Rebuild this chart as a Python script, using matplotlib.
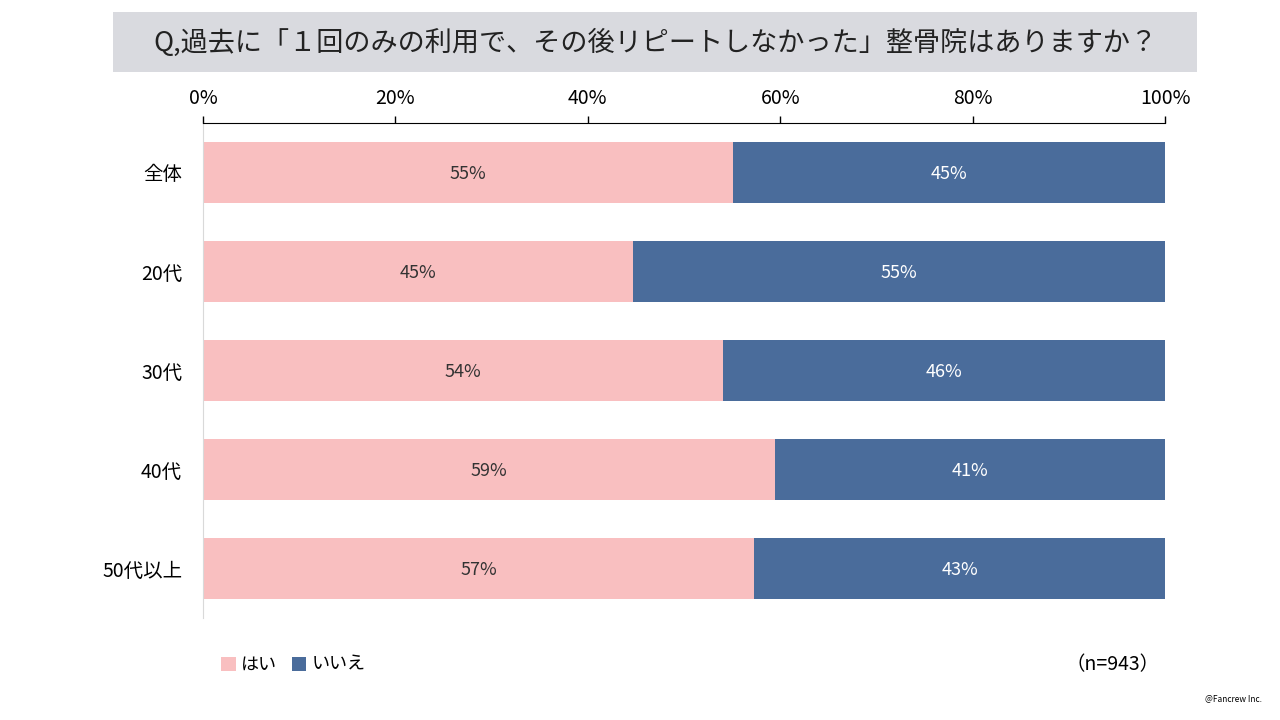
import matplotlib
matplotlib.use('Agg')
import matplotlib.pyplot as plt
from matplotlib.patches import Rectangle

plt.rcParams['font.family'] = ['Noto Sans CJK JP', 'DejaVu Sans']

categories = ['全体', '20代', '30代', '40代', '50代以上']
hai = [55.1, 44.7, 54.1, 59.5, 57.3]
iie = [44.9, 55.3, 45.9, 40.5, 42.7]
hai_labels = ['55%', '45%', '54%', '59%', '57%']
iie_labels = ['45%', '55%', '46%', '41%', '43%']

title = 'Q,過去に「１回のみの利用で、その後リピートしなかった」整骨院はありますか？'

pink = '#F9BFC0'
blue = '#4A6C9B'

fig = plt.figure(figsize=(12.8, 7.2), dpi=100)

# title band
fig.patches.append(Rectangle((113/1280, 1-72/720), (1197-113)/1280, 60/720,
                             transform=fig.transFigure, facecolor='#D9DADF',
                             edgecolor='none', zorder=0))
fig.text(655/1280, 1-43/720, title, ha='center', va='center', fontsize=19.5, color='#222222')

ax = fig.add_axes([203/1280, 1-618/720, (1165-203)/1280, (618-123)/720])
y = list(range(len(categories)))
ax.barh(y, hai, height=0.62, color=pink, label='はい')
ax.barh(y, iie, left=hai, height=0.62, color=blue, label='いいえ')

for i in y:
    ax.text(hai[i] / 2, i + 0.02, hai_labels[i], ha='center', va='center', fontsize=13, color='#333333')
    ax.text(hai[i] + iie[i] / 2, i + 0.02, iie_labels[i], ha='center', va='center', fontsize=13, color='white')

ax.set_xlim(0, 100)
ax.set_ylim(len(categories) - 0.5, -0.5)
ax.set_yticks(y)
ax.set_yticklabels(categories, fontsize=14)
ax.xaxis.tick_top()
ax.set_xticks([0, 20, 40, 60, 80, 100])
ax.set_xticklabels(['0%', '20%', '40%', '60%', '80%', '100%'], fontsize=14)
ax.tick_params(axis='x', length=5, width=1, color='black', pad=5)
ax.tick_params(axis='y', length=0, pad=15)
for s in ['right', 'bottom']:
    ax.spines[s].set_visible(False)
ax.spines['top'].set_color('black')
ax.spines['left'].set_color('#D9D9D9')

handles, labels = ax.get_legend_handles_labels()
fig.legend(handles, labels, loc='center left', bbox_to_anchor=(205/1280, 1-665/720), ncol=2,
           frameon=False, fontsize=13, handlelength=0.8, handleheight=0.8,
           handletextpad=0.3, columnspacing=0.8)

fig.text(1160/1280, 1-665/720, '（n=943）', ha='right', va='center', fontsize=14)
fig.text(1262/1280, 1-699/720, '@Fancrew Inc.', ha='right', va='center', fontsize=6)

plt.savefig('out.png', dpi=100)
